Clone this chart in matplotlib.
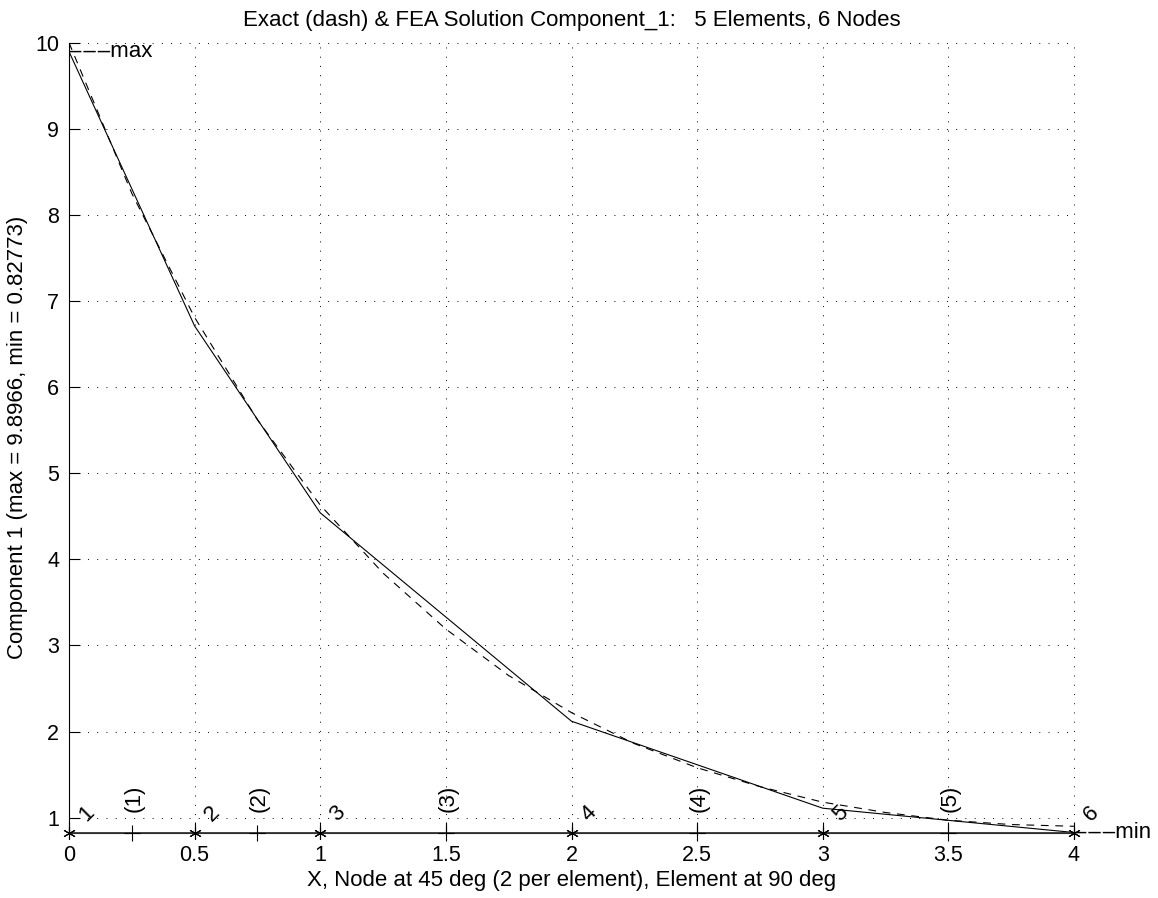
import matplotlib
matplotlib.use("Agg")
import matplotlib.pyplot as plt

# ---- data ----
node_x = [0.0, 0.5, 1.0, 2.0, 3.0, 4.0]
fea_y = [9.8966, 6.71, 4.54, 2.12, 1.11, 0.82773]
node_labels = ["1", "2", "3", "4", "5", "6"]

elem_x = [0.25, 0.75, 1.5, 2.5, 3.5]
elem_labels = ["(1)", "(2)", "(3)", "(4)", "(5)"]

exact_x = [0.0, 0.25, 0.5, 0.75, 1.0, 1.25, 1.5, 1.75, 2.0,
           2.25, 2.5, 2.75, 3.0, 3.25, 3.5, 3.75, 4.0]
exact_y = [10.0, 8.25, 6.81, 5.62, 4.63, 3.84, 3.19, 2.65, 2.22,
           1.86, 1.58, 1.36, 1.18, 1.06, 0.97, 0.92, 0.90]

y_max = 9.8966
y_min = 0.82773

x_ticks = [0, 0.5, 1, 1.5, 2, 2.5, 3, 3.5, 4]
x_ticklabels = ["0", "0.5", "1", "1.5", "2", "2.5", "3", "3.5", "4"]
y_ticks = [1, 2, 3, 4, 5, 6, 7, 8, 9, 10]

title = "Exact (dash) & FEA Solution Component_1:   5 Elements, 6 Nodes"
xlabel = "X, Node at 45 deg (2 per element), Element at 90 deg"
ylabel = "Component 1 (max = 9.8966, min = 0.82773)"

# ---- figure ----
plt.rcParams["font.family"] = ["Liberation Sans", "DejaVu Sans"]
plt.rcParams["font.size"] = 15

W, H = 1158, 898
fig = plt.figure(figsize=(W / 100, H / 100), dpi=100)
ax = fig.add_axes([69 / W, 1 - 832.5 / H, (1074 - 69) / W, (832.5 - 42.7) / H])

ax.set_xlim(0, 4)
ax.set_ylim(y_min, 10)

# grid
for xv in x_ticks:
    ax.plot([xv, xv], [y_min, 10], color="black", lw=0.7,
            ls=(0, (1, 8.5)), zorder=1, clip_on=False)
for yv in y_ticks:
    ax.plot([0, 4], [yv, yv], color="black", lw=0.7,
            ls=(0, (1, 8.5)), zorder=1, clip_on=False)

# curves
ax.plot(exact_x, exact_y, color="black", lw=0.8, ls=(0, (7, 6)), zorder=3)
ax.plot(node_x, fea_y, color="black", lw=0.8, zorder=3)

# base line with node / element markers
ax.plot(node_x, [y_min] * len(node_x), color="0.2", lw=1.3,
        zorder=3, clip_on=False)
ax.plot(node_x, [y_min] * len(node_x), ls="none", color="black",
        marker=(6, 2, 0), ms=9, mew=0.8, zorder=4, clip_on=False)
ax.plot(elem_x, [y_min] * len(elem_x), ls="none", color="black",
        marker="+", ms=11, mew=0.8, zorder=4, clip_on=False)

# node labels (45 deg) and element labels (90 deg)
for xv, lab in zip(node_x, node_labels):
    ax.annotate(lab, (xv, y_min), xytext=(12.5, 13.5), textcoords="offset points",
                rotation=45, ha="center", va="center", fontsize=16,
                annotation_clip=False)
for xv, lab in zip(elem_x, elem_labels):
    ax.annotate(lab, (xv, y_min), xytext=(1.5, 24.5), textcoords="offset points",
                rotation=90, ha="center", va="center", fontsize=16,
                annotation_clip=False)

# max / min markers
dash3 = "\u2013\u200a\u2013\u200a\u2013"
ax.text(0, y_max, dash3 + "max", ha="left", va="center", fontsize=16)
ax.text(4, y_min, dash3 + "min", ha="left", va="center", fontsize=16,
        clip_on=False)

# axes styling
ax.set_xticks(x_ticks)
ax.set_xticklabels(x_ticklabels)
ax.set_yticks(y_ticks)
ax.tick_params(direction="in", length=8, width=0.8, pad=7, labelsize=15.5)
ax.tick_params(axis="x", pad=9)
ax.spines["top"].set_visible(False)
ax.spines["right"].set_visible(False)
ax.spines["left"].set_linewidth(0.8)
ax.spines["bottom"].set_linewidth(0.8)

ax.set_title(title, fontsize=16, pad=12)
ax.set_xlabel(xlabel, fontsize=16, labelpad=3)
ax.set_ylabel(ylabel, fontsize=16, labelpad=5)

fig.savefig("out.png", dpi=100)
